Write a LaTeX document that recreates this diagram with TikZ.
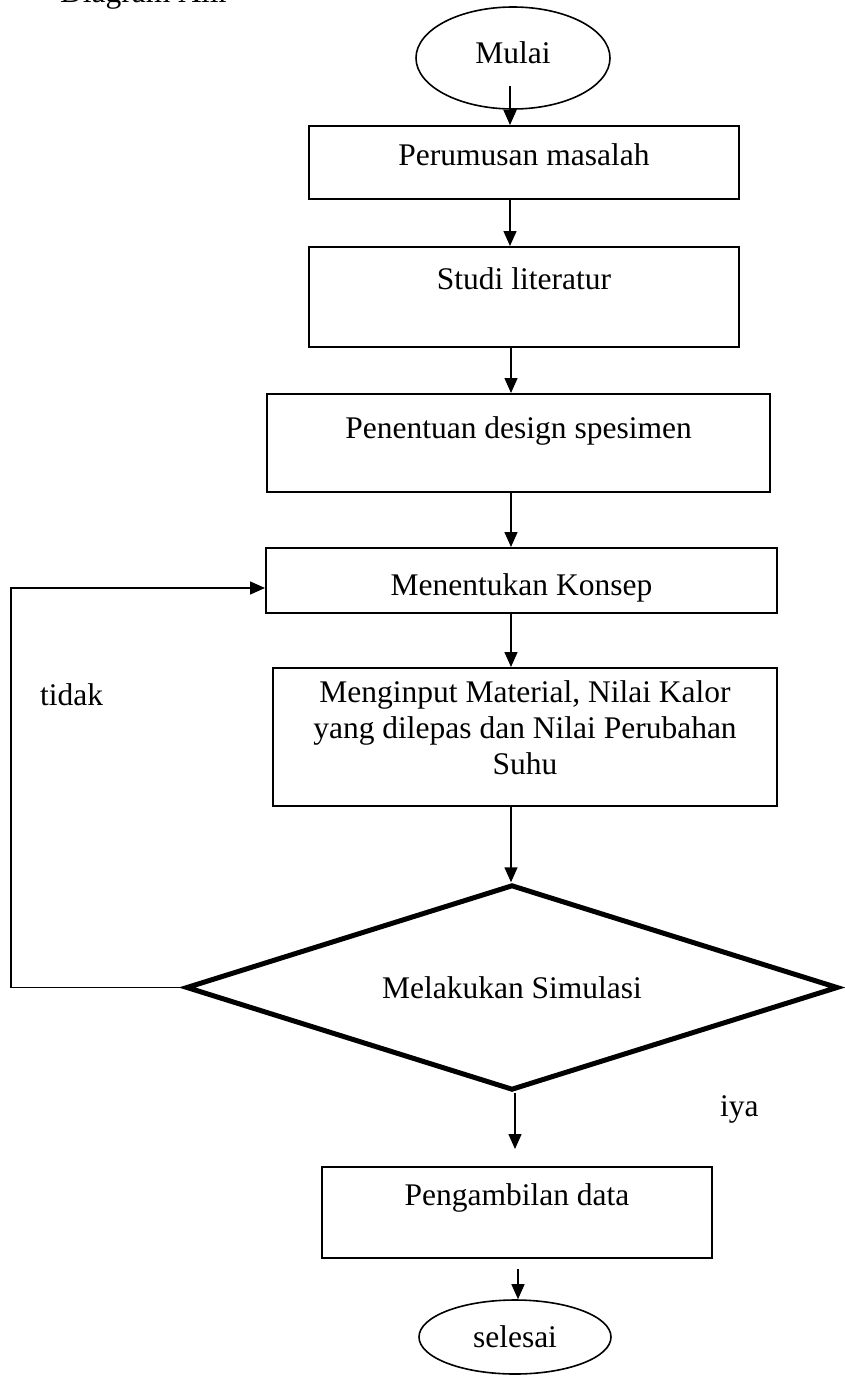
\documentclass[tikz,border=0pt]{standalone}
\usepackage{fontspec}
\setmainfont{Liberation Serif}
\usetikzlibrary{shapes.geometric,arrows.meta,calc}
\begin{document}
\begin{tikzpicture}[x=1pt,y=-1pt,
  every node/.style={font=\fontsize{31.5}{36}\selectfont},
  box/.style={draw, line width=2pt, rectangle, inner sep=0pt, anchor=base},
  term/.style={draw, line width=1.6pt, ellipse, inner sep=0pt},
  decision/.style={draw, line width=5pt, diamond, inner sep=0pt},
  arr/.style={line width=1.5pt, -{Triangle[length=15pt,width=13pt]}},
  lbl/.style={anchor=base west, inner sep=0pt}]
\useasboundingbox (0,0) rectangle (845,1378);

\node[lbl] (title) at (60,3) {Diagram Alir};
\node[term, minimum width=194pt, minimum height=102pt, text depth=11.5pt] (mulai) at (513,58) {Mulai};
\node[box, minimum width=430pt, text height=39pt, text depth=34pt] (b1) at (524,165) {Perumusan masalah};
\node[box, minimum width=430pt, text height=42pt, text depth=58pt] (b2) at (524,289) {Studi literatur};
\node[box, minimum width=503pt, text height=44pt, text depth=54pt] (b3) at (518.5,438) {Penentuan design spesimen};
\node[box, minimum width=511pt, text height=47pt, text depth=18pt] (b4) at (521.5,595) {Menentukan Konsep};
\node[draw, line width=2pt, inner sep=0pt, minimum width=504pt, minimum height=138pt, align=center] (b5) at (525,737)
  {Menginput Material, Nilai Kalor\\ yang dilepas dan Nilai Perubahan\\ Suhu\rule[-18pt]{0pt}{18pt}};
\node[decision, minimum width=652pt, minimum height=205.5pt, shape aspect=3.17] (d) at (512,987.5) {Melakukan Simulasi};
\node[box, minimum width=390pt, text height=38pt, text depth=53pt] (b6) at (517,1205) {Pengambilan data};
\node[term, minimum width=192pt, minimum height=74pt] (selesai) at (515,1337) {selesai};
\node[lbl] (tidak) at (40,705) {tidak};
\node[lbl] (iya) at (720,1116) {iya};

\coordinate (s1) at (510,0);
\coordinate (s2) at (511,0);
\coordinate (s3) at (515,0);
\coordinate (s4) at (518,0);
\coordinate (fb) at (11,588);

\draw[arr] ($(mulai.south)+(-3,-24)$) -- (b1.north -| s1);
\draw[arr] (b1.south -| s1) -- (b2.north -| s1);
\draw[arr] (b2.south -| s2) -- (b3.north -| s2);
\draw[arr] (b3.south -| s2) -- (b4.north -| s2);
\draw[arr] (b4.south -| s2) -- (b5.north -| s2);
\draw[arr] (b5.south -| s2) -- (d.north -| s2);
\draw[arr] (d.south -| s3) -- ($(b6.north -| s3)+(0,-17)$);
\draw[arr] ($(b6.south -| s4)+(0,10)$) -- (selesai.north -| s4);
\draw[arr] (d.west) -- (d.west -| fb) -- (fb) -- (b4.west |- fb);
\end{tikzpicture}
\end{document}
